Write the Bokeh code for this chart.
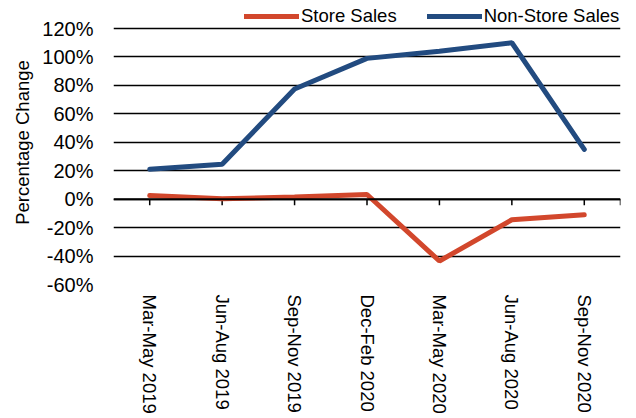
import math
from bokeh.plotting import figure
from bokeh.models import (FixedTicker, PrintfTickFormatter, Legend,
                          LegendItem, Range1d, FactorRange, Span)
from bokeh.embed import file_html
from bokeh.resources import INLINE

categories = ["Mar-May 2019", "Jun-Aug 2019", "Sep-Nov 2019", "Dec-Feb 2020",
              "Mar-May 2020", "Jun-Aug 2020", "Sep-Nov 2020"]
store_sales = [2.5, 0.3, 1.5, 3.3, -43.5, -14.5, -11.0]
non_store_sales = [21.0, 24.5, 77.5, 99.0, 104.0, 110.0, 35.0]
y_ticks = [-60, -40, -20, 0, 20, 40, 60, 80, 100, 120]

FONT = "Liberation Sans"
RED = "#D2472C"
BLUE = "#224B80"

Y_MIN, Y_MAX = y_ticks[0], y_ticks[-1]
W, H = 628, 416
BL, BR, BB = 113, 8, 132
TOP_PAD_PX = 28          # room above the 120% line for the legend
frame_h = H - BB
grid_h = frame_h - TOP_PAD_PX
units_per_px = (Y_MAX - Y_MIN) / grid_h
y_end = Y_MAX + TOP_PAD_PX * units_per_px
tick_len = 6 * units_per_px  # 6px in data units

p = figure(x_range=FactorRange(factors=categories), y_range=Range1d(Y_MIN, y_end),
           width=W, height=H, output_backend="svg", toolbar_location=None,
           min_border_left=BL, min_border_right=BR, min_border_top=0,
           min_border_bottom=BB)
p.outline_line_color = None
p.background_fill_color = "white"

# grid
p.xgrid.grid_line_color = None
p.ygrid.ticker = FixedTicker(ticks=y_ticks)
p.ygrid.grid_line_color = "black"
p.ygrid.grid_line_width = 1.5

# category axis line at zero with tick marks (category centres + axis end)
tick_x = categories + [(categories[-1], 0.5)]
p.add_layout(Span(location=0, dimension="width", line_color="black", line_width=2))
p.segment(x0=tick_x, y0=[0] * len(tick_x), x1=tick_x,
          y1=[-tick_len] * len(tick_x), line_color="black", line_width=1.5)

r_store = p.line(categories, store_sales, line_color=RED, line_width=5, line_cap="round")
r_non = p.line(categories, non_store_sales, line_color=BLUE, line_width=5, line_cap="round")

# y axis
p.yaxis.ticker = FixedTicker(ticks=y_ticks)
p.yaxis.formatter = PrintfTickFormatter(format="%d%%")
p.yaxis.axis_line_color = None
p.yaxis.major_tick_line_color = None
p.yaxis.minor_tick_line_color = None
p.yaxis.major_tick_in = 0
p.yaxis.major_tick_out = 0
p.yaxis.major_label_standoff = 20
p.yaxis.major_label_text_font = FONT
p.yaxis.major_label_text_font_size = "20px"
p.yaxis.major_label_text_color = "black"
p.yaxis.axis_label = "Percentage Change"
p.yaxis.axis_label_text_font = FONT
p.yaxis.axis_label_text_font_size = "18.5px"
p.yaxis.axis_label_text_font_style = "normal"
p.yaxis.axis_label_text_color = "black"
p.yaxis.axis_label_standoff = 6

# x axis labels at bottom
p.xaxis.axis_line_color = None
p.xaxis.major_tick_line_color = None
p.xaxis.major_tick_in = 0
p.xaxis.major_tick_out = 0
p.xaxis.major_label_orientation = -math.pi / 2
p.xaxis.major_label_standoff = 10
p.xaxis.major_label_text_font = FONT
p.xaxis.major_label_text_font_size = "18.5px"
p.xaxis.major_label_text_color = "black"

legend = Legend(items=[LegendItem(label="Store Sales", renderers=[r_store]),
                       LegendItem(label="Non-Store Sales", renderers=[r_non])],
                orientation="horizontal", location=(131, grid_h + 1),
                border_line_color=None, background_fill_alpha=0,
                padding=0, margin=0, spacing=30, glyph_width=55, glyph_height=20,
                label_standoff=2, label_height=20,
                label_text_font=FONT, label_text_font_size="18.5px",
                label_text_color="black")
p.add_layout(legend)

open("out.html", "w").write(file_html(p, INLINE))
